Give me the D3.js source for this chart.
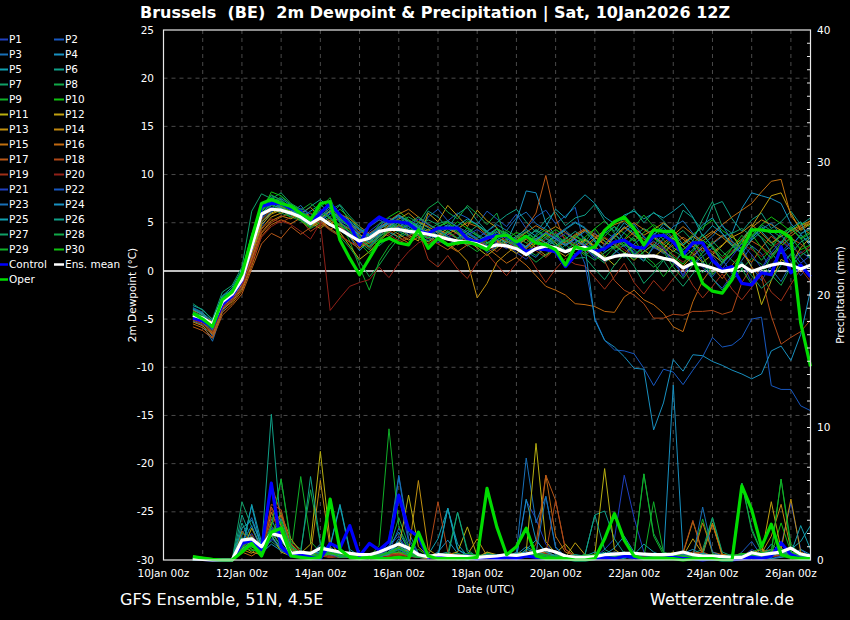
<!DOCTYPE html>
<html><head><meta charset="utf-8">
<script src="https://cdnjs.cloudflare.com/ajax/libs/d3/7.8.5/d3.min.js"></script>
<style>
body{margin:0;background:#000;}
svg{display:block;}
text{font-family:"DejaVu Sans",sans-serif;fill:#fff;}
</style>
</head><body>
<svg id="c" width="850" height="620"></svg>
<script>
// ---------------- DATA ----------------
const runStartUTC = [2026, 0, 10, 18];   // first step: 10Jan 18z, 6-hourly
const stepHours = 6;
const xTickLabels = ["10Jan 00z","12Jan 00z","14Jan 00z","16Jan 00z","18Jan 00z","20Jan 00z","22Jan 00z","24Jan 00z","26Jan 00z"];
const dewTicks = [25,20,15,10,5,0,-5,-10,-15,-20,-25,-30];
const prcTicks = [40,30,20,10,0];
const memberNames = ["P1","P2","P3","P4","P5","P6","P7","P8","P9","P10","P11","P12","P13","P14","P15","P16","P17","P18","P19","P20","P21","P22","P23","P24","P25","P26","P27","P28","P29","P30"];
const memberColors = ["#2040c0","#1858c0","#1870b8","#1890c0","#10a0b0","#10a088","#10a068","#10a848","#10b028","#10c010",
                      "#b8b010","#c0a010","#c09010","#c08810","#c07010","#c06810","#b85818","#b04818","#a03018","#902018"];

const dewMean = [-4.6,-4.9,-5.5,-3.2,-2.4,-0.9,2.5,5.9, 6.4,6.3,6.0,5.6,4.9,5.5,4.8,4.3, 3.7,3.1,3.4,4.1,4.3,4.3,4.1,4.0, 3.8,3.6,3.3,3.1,3.0,2.8,2.4,2.7, 2.6,2.3,1.7,2.3,2.6,2.4,2.0,2.35, 2.45,1.9,1.2,1.5,1.66,1.56,1.5,1.56, 1.3,1.1,0.3,0.8,0.6,0.3,-0.05,0.1, 0.6,-0.05,0.3,0.6,0.8,0.6,0.2,0.6];
const dewCtrl = [-4.9,-5.2,-5.8,-3.5,-2.6,-1.0,2.5,6.7, 7.0,7.0,6.5,6.2,4.9,6.0,7.0,5.8, 4.8,2.7,4.8,5.6,5.1,5.1,4.9,4.1, 3.9,4.45,4.45,4.45,3.3,3.0,3.4,3.7, 3.6,3.0,2.0,2.3,2.2,2.0,0.45,1.6, 2.5,2.0,2.3,3.0,3.2,2.5,2.35,3.6, 3.7,3.0,1.7,2.9,2.9,1.1,0.1,0.45, -1.3,-1.45,-0.2,-0.4,2.5,-0.2,0.6,-0.6];
const dewOper = [-4.4,-5.0,-5.8,-3.0,-2.2,-0.3,3.4,7.0, 7.4,7.0,6.7,6.0,5.3,7.0,7.2,3.2, 1.3,-0.4,1.3,3.0,3.4,2.9,2.7,4.25, 2.35,3.4,2.7,2.9,3.0,2.7,2.2,3.6, 3.7,3.0,3.6,2.9,2.7,2.2,0.6,2.5, 2.2,2.5,4.2,5.1,5.6,4.4,2.7,4.25, 4.1,4.1,1.5,1.3,-1.3,-2.1,-2.3,-0.9, 2.2,4.25,4.25,4.1,4.1,3.4,-5.4,-9.9];

const prcMean = [0.1,0.05,0,0,0,1.5,1.6,1.0, 2.0,1.8,0.5,0.6,0.5,0.9,0.75,0.6, 0.5,0.4,0.4,0.6,0.9,1.2,0.9,0.4, 0.25,0.4,0.35,0.3,0.25,0.2,0.25,0.3, 0.4,0.35,0.45,0.6,0.8,0.6,0.3,0.2, 0.2,0.25,0.4,0.45,0.5,0.5,0.45,0.4, 0.4,0.45,0.6,0.4,0.3,0.3,0.25,0.2, 0.2,0.55,0.4,0.5,0.6,0.9,0.45,0.3];
const prcCtrl = [0.1,0.05,0,0,0,1.25,1.5,0.8, 5.8,1.0,0.3,0.4,0.2,0.1,1.25,0.9, 2.6,0.3,1.25,0.75,1.4,4.9,2.3,1.75, 0.2,0.3,0.1,0.2,0.3,0.1,0.2,0.1, 0.2,0.1,0.3,0.2,0.1,0.1,0.1,0, 0,0.1,0.2,0.1,0.3,0.2,0.1,0.1, 0.1,0.2,0.1,0.1,0,0.1,0,0, 0.1,0.2,0.1,0.3,1.3,0.4,0.1,0.1];
const prcOper = [0.25,0.15,0.05,0,0,0.6,1.25,0.3, 2.1,2.4,0.3,0.2,0.1,0.2,4.6,0.8, 0.2,0.1,0.2,0.1,0.1,0.2,0.1,2.1, 0.3,0.1,0.1,0.1,0.1,0.2,5.4,2.5, 0.4,1.0,2.4,0.3,0.1,0.1,0.1,0, 0,0.1,1.6,3.5,1.5,0.3,0.1,0.1, 0.1,0.1,0,0.1,0.1,0.1,0,0, 5.6,3.8,1.0,2.7,0.4,0.2,0.1,0.1];

const dewP1 = [-4.8,-5.3,-6.2,-3.8,-2.6,-1.2,2.0,5.4, 6.8,7.2,6.5,5.9,5.0,6.4,5.6,4.6, 3.9,2.8,4.1,4.9,5.2,4.6,4.0,4.4, 3.6,2.9,3.8,3.4,2.6,3.1,2.2,3.0, 2.8,1.9,1.2,2.4,3.3,2.9,2.1,3.0, 3.4,2.1,0.9,1.8,2.7,2.0,1.1,2.4, 2.0,1.4,-0.6,1.2,0.4,-0.8,-1.8,-0.4, 0.9,-1.2,0.2,1.6,2.4,1.0,-0.5,0.8];
const dewP2 = [-4.3,-5.0,-6.8,-3.9,-3.0,-1.8,1.1,4.6, 6.1,6.9,6.4,6.0,5.2,5.8,6.1,5.0, 4.4,3.6,3.9,4.6,5.5,5.0,4.3,3.8, 5.6,6.4,5.2,6.0,5.5,4.8,6.2,5.4, 4.6,5.9,4.4,5.6,6.3,4.9,5.7,6.6, 2.3,1.5,2.6,3.8,3.0,1.7,2.4,3.1, 2.2,0.8,1.9,2.6,1.0,-0.6,0.7,1.8, 2.5,0.4,-1.0,0.6,1.9,3.0,1.4,0.2];
const dewP3 = [-5.2,-5.6,-7.3,-4.2,-3.0,-1.5,1.6,5.0, 6.2,6.6,6.0,6.8,5.5,4.9,6.3,5.2, 4.6,3.2,2.5,3.8,4.6,5.6,4.8,3.9, 3.3,4.4,3.6,2.8,3.9,3.2,1.9,2.5, 3.4,2.6,2.0,1.4,2.6,3.5,4.2,3.3, 2.7,3.9,3.1,2.2,1.4,2.8,3.6,2.5, 1.8,3.0,2.1,0.6,1.5,2.4,1.2,-0.3, 1.1,2.6,1.8,0.2,-1.1,0.7,2.0,1.3];
const dewP4 = [-4.0,-4.6,-6.0,-3.5,-2.3,-0.6,3.2,6.0, 6.9,7.5,6.8,6.2,5.6,6.0,5.1,4.2, 3.5,2.1,3.2,4.6,5.0,4.5,5.3,4.7, 4.0,3.5,4.6,3.8,3.1,2.6,3.5,4.1, 3.0,5.2,8.3,8.1,5.0,3.6,2.8,3.4, 4.1,3.0,2.3,3.5,4.6,3.9,2.6,3.8, 4.5,3.4,2.2,3.1,1.9,2.8,3.6,3.9, 6.5,8.1,7.8,7.5,7.0,4.9,3.8,2.6];
const dewP5 = [-3.6,-4.0,-5.1,-2.8,-1.9,-0.2,3.8,6.6, 7.8,7.4,6.3,5.5,6.2,6.9,6.0,5.3, 4.8,3.4,2.9,4.2,4.0,3.5,4.4,5.0, 4.5,3.2,2.6,3.4,4.2,3.7,2.9,3.6, 4.0,3.1,2.4,3.8,4.6,6.4,5.5,6.9, 7.9,7.0,5.6,4.9,5.8,6.2,5.4,6.0, 5.5,6.2,7.0,5.6,3.6,4.7,3.9,2.8, 1.9,3.2,4.1,3.0,1.8,2.6,3.7,2.9];
const dewP6 = [-4.5,-4.9,-5.4,-2.6,-2.0,-0.9,2.8,6.3, 7.2,6.8,6.1,5.4,4.6,5.2,5.9,6.8, 5.1,3.9,4.6,5.3,4.7,4.1,3.6,4.3, 6.2,5.6,4.4,5.9,6.6,5.2,4.1,5.0, 5.8,6.4,5.1,4.0,5.3,6.1,4.7,5.5, 5.8,6.9,5.2,4.1,5.6,6.4,5.0,6.1, 5.2,3.9,6.3,5.5,4.2,6.8,7.2,5.4, 4.1,5.3,6.0,4.4,5.1,6.2,4.8,5.5];
const dewP7 = [-3.4,-4.1,-5.0,-2.2,-1.5,0.4,6.2,8.0, 7.5,8.1,7.0,6.4,5.3,5.9,7.2,5.8, 4.4,3.0,2.2,3.6,5.1,5.8,5.2,4.6, 5.3,4.8,4.0,3.3,4.5,3.8,3.2,4.0, 3.5,2.7,3.4,4.3,3.6,2.6,3.4,2.8, 2.2,3.3,4.1,3.4,2.5,3.6,4.4,3.8, 2.7,3.5,4.2,3.1,5.4,7.2,4.6,3.9, 4.4,3.6,4.8,4.2,3.5,4.6,3.9,4.3];
const dewP8 = [-4.9,-5.2,-6.3,-3.4,-2.7,-1.0,2.3,5.8, 6.4,6.0,5.6,5.2,4.4,5.0,4.3,3.6, 2.4,1.0,-0.6,0.6,2.1,3.4,4.0,4.8, 4.2,4.9,5.2,4.5,3.8,3.3,2.8,3.5, 4.0,2.9,2.2,1.6,2.6,3.9,2.8,1.7, 2.5,1.6,0.8,1.9,2.8,2.2,1.3,0.4, 1.2,2.1,1.5,0.8,-0.2,1.1,0.3,-1.0, 0.2,1.3,0.7,-0.4,-1.5,0.4,1.6,2.3];
const dewP9 = [-4.2,-4.7,-5.5,-2.9,-2.1,-0.5,3.0,6.7, 7.9,7.3,6.6,5.8,5.1,6.6,7.6,5.0, 3.1,0.4,-2.0,1.0,2.6,3.7,4.2,4.5, 3.8,4.6,5.0,4.3,5.2,4.8,3.9,3.3, 2.6,3.4,4.0,3.2,2.4,1.8,2.7,3.6, 2.9,2.0,1.4,2.5,3.3,4.5,5.8,4.6, 3.2,2.4,1.8,2.9,3.7,2.6,1.5,2.4, 3.1,4.2,3.5,2.6,3.9,4.4,3.4,4.1];
const dewP10 = [-4.7,-5.1,-5.9,-3.1,-2.5,-0.7,2.6,6.1, 8.2,7.8,6.9,6.3,5.4,4.8,5.6,6.4, 5.5,4.3,3.6,4.8,5.6,6.2,5.3,4.5, 3.9,3.4,4.2,5.1,4.4,3.6,3.0,2.6, 3.3,4.0,3.6,2.8,3.5,4.3,3.6,2.4, 1.6,2.4,3.6,4.6,3.9,3.1,4.0,4.8, 4.1,3.3,2.6,3.8,4.5,5.3,4.2,3.5, 2.8,3.6,4.8,5.6,4.9,4.1,5.0,4.6];
const dewP11 = [-4.4,-4.8,-5.6,-3.3,-2.4,-1.1,1.8,5.1, 6.0,6.5,6.2,5.7,5.0,4.4,5.2,4.0, 2.6,1.2,2.0,3.1,4.0,4.8,4.2,3.6, 3.0,3.7,4.4,3.9,3.2,2.4,1.6,2.4, 3.1,2.5,1.7,2.9,3.8,2.9,1.9,2.6, 3.3,2.6,1.5,0.6,1.8,2.7,2.2,1.4, 2.3,3.4,2.6,1.8,0.9,1.7,2.6,3.8, 2.1,0.4,-3.5,-1.0,1.2,0.6,2.4,3.5];
const dewP12 = [-5.0,-5.4,-6.4,-3.6,-2.8,-1.4,1.4,4.8, 5.9,6.3,5.8,5.3,4.6,5.4,6.2,5.6, 4.9,3.8,3.2,4.3,4.9,4.4,3.7,3.1, 6.0,5.1,6.8,5.7,4.6,6.3,5.2,4.5, 2.5,1.8,2.6,3.4,2.9,2.2,1.5,2.3, 3.2,2.5,3.4,2.7,1.9,1.1,2.0,2.8, 2.1,1.3,0.5,1.6,2.4,1.7,0.9,1.8, 2.9,4.6,6.2,7.8,8.1,6.0,4.2,4.9];
const dewP13 = [-4.6,-5.0,-6.1,-3.7,-2.9,-1.6,1.2,4.4, 5.6,6.0,6.4,5.9,5.2,4.6,5.3,4.7, 3.6,2.4,3.0,3.9,4.4,3.8,3.2,3.8, 4.3,3.6,2.8,2.1,1.0,-2.8,-1.3,0.9, 1.8,2.6,3.3,2.4,1.6,2.3,3.0,3.7, 4.2,3.5,2.7,3.6,4.5,3.7,2.9,3.5, 2.8,2.0,2.9,3.6,2.8,1.9,2.7,3.5, 4.0,4.8,3.9,2.9,3.6,4.2,4.7,5.2];
const dewP14 = [-5.3,-5.7,-6.6,-4.0,-3.2,-1.9,0.8,4.0, 5.2,5.7,5.4,6.0,6.6,5.5,4.8,5.6, 5.0,4.2,3.4,4.0,4.7,5.4,6.0,5.1, 4.6,4.0,3.4,2.7,3.3,2.7,2.1,2.9, 3.6,3.0,2.3,3.1,4.0,4.6,4.0,3.3, 2.6,3.4,4.2,4.8,5.2,4.4,3.7,4.3, 5.0,4.2,3.3,2.5,3.4,4.1,3.5,2.6, 3.3,4.5,5.3,4.8,4.2,3.6,4.4,5.0];
const dewP15 = [-4.1,-4.5,-5.3,-3.0,-2.2,-0.4,2.1,5.3, 6.3,6.7,6.1,5.4,4.8,5.7,6.5,5.9, 5.4,4.6,3.9,4.5,5.2,5.9,6.4,5.6, 4.8,4.3,3.8,4.4,5.0,4.6,3.7,3.1, 2.4,3.2,4.0,4.7,4.1,3.4,2.7,3.5, 4.3,3.6,2.8,3.5,4.4,5.0,4.3,3.6, 2.9,3.7,4.6,3.8,3.1,3.9,4.8,5.6, 6.3,7.0,8.2,9.3,9.5,5.7,4.4,5.2];
const dewP16 = [-5.5,-5.9,-6.9,-4.3,-3.4,-2.1,0.5,3.6, 4.8,5.3,4.9,5.5,6.0,5.2,4.3,4.9, 4.3,3.5,2.8,3.6,4.2,3.5,2.9,3.5, 4.1,3.4,2.6,2.0,2.7,3.3,2.4,1.6, 0.8,1.4,0.6,-0.5,-1.6,-2.0,-2.5,-3.4, -3.5,-3.7,-4.2,-4.3,-2.7,-2.0,-3.0,-3.5, -4.4,-5.8,-6.3,-3.2,-1.0,0.4,-0.8,0.6, 1.8,0.9,2.4,3.6,2.8,3.9,4.6,3.8];
const dewP17 = [-5.8,-6.2,-7.0,-4.6,-3.6,-2.4,0.2,2.8, 3.9,3.4,4.6,3.8,4.5,5.2,4.4,3.7, 3.0,2.3,3.4,4.1,3.6,2.9,3.4,4.0, 3.5,2.8,2.2,2.9,3.6,3.1,2.5,3.2, 2.6,3.4,4.5,6.0,9.9,5.5,3.0,3.8, 4.4,3.8,3.1,2.4,3.2,4.0,3.3,2.6, 1.9,2.7,3.5,2.8,2.1,2.9,3.7,3.0, 2.3,3.1,2.5,1.7,2.6,3.4,2.8,2.0];
const dewP18 = [-5.1,-5.5,-6.5,-3.9,-3.1,-1.7,1.0,3.9, 5.0,5.6,6.0,5.3,4.1,4.8,5.5,4.6, 3.8,3.1,2.4,3.3,4.0,4.7,4.1,3.4, 2.8,3.5,4.1,3.3,2.6,3.2,2.7,2.0, 2.9,3.6,2.9,2.1,1.4,2.3,3.1,2.5, 1.8,2.6,1.0,-1.0,-2.0,-2.5,-3.4,-4.9, -4.9,-4.5,-4.6,-4.2,-4.2,-4.1,-4.5,-4.2, -1.2,0.4,-0.6,-4.7,-7.6,-6.9,-6.3,-5.1];
const dewP19 = [-4.9,-5.3,-6.0,-3.4,-2.6,-1.3,1.5,4.3, 5.4,5.0,5.6,6.1,5.6,5.0,4.2,3.6, 3.0,2.6,3.5,4.4,3.8,3.1,3.6,4.2, 1.2,0.4,1.6,0.2,-0.8,0.9,1.8,0.6, -0.5,0.8,1.9,0.3,-1.2,0.2,1.3,0.7, 0.5,-0.7,-1.9,-0.6,0.8,-1.2,-2.4,-1.0, -2.1,-0.8,0.3,-1.5,-2.8,-1.6,-0.3,-1.9, -3.0,-1.7,-0.4,-2.2,-3.1,-1.4,0.2,-1.1];
const dewP20 = [-5.0,-5.5,-6.3,-3.8,-3.0,-1.6,0.9,3.5, 4.6,5.2,4.8,4.1,3.3,5.0,-4.1,-2.8, -1.6,-1.2,-0.9,0.4,-0.7,0.8,2.0,2.9, 3.4,2.8,3.5,4.0,3.3,2.6,3.2,3.8, 3.1,2.4,1.7,2.5,3.3,4.0,3.4,2.7, 2.0,2.8,3.5,2.9,2.2,1.5,2.3,3.0, 2.4,1.7,0.9,1.8,2.6,2.0,1.3,2.1, 2.8,2.2,1.5,2.4,3.1,2.5,1.8,2.6];
const dewP21 = [-4.6,-5.0,-5.8,-3.2,-2.4,-0.9,2.4,5.7, 6.6,6.2,5.8,6.5,5.9,5.3,6.0,5.4, 4.7,4.0,4.6,5.3,4.8,4.2,4.7,5.4, 4.8,4.2,3.6,3.0,3.7,4.3,3.6,2.9, 2.3,3.0,3.7,3.1,2.4,3.2,3.9,3.2, 2.5,1.2,2.8,3.9,2.6,1.4,2.9,3.8, 2.4,0.9,-0.4,1.3,2.7,1.6,0.2,1.5, 2.8,1.7,0.3,1.9,3.1,2.2,0.8,1.6];
const dewP22 = [-4.4,-4.9,-6.1,-3.5,-2.7,-1.1,2.2,5.5, 6.5,6.9,6.3,5.7,5.1,5.6,4.9,4.3, 3.7,3.0,3.8,4.5,5.0,4.4,3.8,4.2, 3.8,3.3,2.7,3.3,3.9,3.3,2.6,3.2, 3.8,3.2,2.5,3.3,4.0,3.4,2.7,3.3, 0.7,-4.9,-7.2,-8.2,-8.3,-8.6,-10.1,-11.9, -10.2,-10.5,-11.8,-10.3,-8.9,-6.9,-7.9,-7.7, -6.9,-5.0,-4.8,-11.9,-12.3,-12.3,-14.0,-14.5];
const dewP23 = [-3.8,-4.3,-5.7,-3.0,-2.0,-0.3,3.4,6.4, 7.3,6.9,6.3,5.6,4.9,5.7,6.5,5.7, 5.0,4.3,3.6,4.3,5.0,5.7,5.0,4.4, 3.8,4.5,5.2,4.6,4.0,3.4,4.1,4.8, 4.2,5.5,6.1,4.9,4.3,3.7,4.4,5.1, 4.5,3.2,1.9,2.6,4.0,4.9,3.5,2.4, 3.3,4.6,5.2,3.9,2.7,3.6,4.8,3.1, 2.2,3.5,4.3,5.0,3.7,2.5,3.8,4.6];
const dewP24 = [-4.0,-4.5,-5.8,-3.3,-2.2,-0.7,2.6,6.0, 6.9,6.5,5.9,5.4,4.7,5.5,6.3,5.5, 4.6,3.7,3.0,3.8,4.6,5.3,4.6,4.0, 3.4,4.1,4.8,4.2,3.6,3.0,3.7,4.4, 3.8,3.1,2.5,3.2,3.9,3.3,2.6,3.3, 2.5,-5.1,-7.2,-7.9,-8.9,-10.1,-10.2,-16.5, -13.7,-9.2,-10.4,-8.7,-8.8,-9.4,-9.8,-10.3, -10.7,-11.2,-10.7,-8.3,-7.8,-9.3,-6.6,-2.0];
const dewP25 = [-3.9,-4.4,-5.2,-2.6,-1.7,0.1,3.6,6.9, 7.5,7.0,6.4,5.7,5.0,5.9,6.7,5.9, 5.2,4.4,3.7,4.4,5.1,5.8,5.1,4.5, 3.9,3.3,4.0,4.7,5.4,4.8,4.1,3.5, 2.9,3.6,4.3,3.6,2.9,3.6,4.3,5.0, 4.4,3.2,2.1,3.7,5.0,4.2,2.8,3.6, 4.9,4.1,2.7,3.5,4.8,5.5,3.9,2.6, 1.8,3.3,4.6,3.8,2.9,4.4,5.1,2.8];
const dewP26 = [-4.8,-5.2,-6.0,-3.3,-2.5,-0.8,2.9,6.5, 7.6,7.2,6.4,5.8,6.7,7.4,6.5,5.1, 4.0,3.2,2.6,3.5,4.3,5.1,4.4,3.7, 3.1,3.9,4.7,4.0,3.3,2.8,3.6,4.3, 3.6,2.8,3.5,4.2,3.4,2.6,3.3,4.1, 3.4,2.2,3.9,4.6,3.1,1.8,1.0,2.6, 3.9,3.1,1.4,2.2,3.8,2.5,0.8,1.9, 3.2,4.5,3.4,1.9,0.6,1.8,3.0,3.6];
const dewP27 = [-4.3,-4.7,-5.6,-2.9,-2.1,-0.4,3.1,6.8, 7.1,6.6,6.0,5.3,4.7,5.5,6.3,6.9, 5.7,4.6,3.4,2.6,3.5,4.2,4.9,5.6, 4.9,4.2,3.5,3.1,3.9,4.7,4.0,3.3, 2.6,3.4,4.1,3.3,2.5,3.2,2.1,1.3, 1.4,0.2,-0.9,0.6,1.8,0.5,-1.3,-0.2, 1.1,-0.4,-1.6,-0.3,1.0,-0.8,-2.0,-0.6, 0.9,-0.5,-1.8,-0.9,0.6,1.7,0.4,-0.7];
const dewP28 = [-4.5,-4.9,-5.7,-3.0,-2.2,-0.5,2.7,6.2, 7.0,7.7,6.9,6.2,5.5,6.2,5.4,4.7, 4.1,3.5,2.9,3.6,4.3,5.0,5.6,5.0, 6.5,7.2,6.1,5.4,6.8,5.9,4.8,6.0, 3.2,2.5,1.8,0.9,1.7,2.5,3.2,2.5, 1.8,1.1,1.9,2.6,1.9,1.2,2.0,2.7, 2.0,0.4,-0.8,0.6,1.9,3.1,2.0,1.1, 0.2,-1.4,-0.3,1.5,2.9,4.4,3.5,1.2];
const dewP29 = [-4.7,-5.1,-5.8,-3.2,-2.4,-0.9,2.4,5.8, 6.8,6.3,5.6,6.3,7.0,6.2,5.5,4.8, 4.1,3.3,2.5,3.3,4.1,4.8,4.1,3.4, 2.7,3.4,4.1,3.4,2.7,2.0,2.8,3.5, 4.2,3.6,2.9,3.6,4.3,3.7,3.0,3.7, 3.0,4.4,5.2,3.9,2.6,3.4,1.6,0.8, -0.6,0.7,2.2,3.0,1.5,-0.4,0.9,2.4, 3.7,2.5,1.1,2.3,3.8,4.6,3.3,3.9];
const dewP30 = [-4.5,-5.0,-5.7,-3.1,-2.3,-0.6,2.7,6.2, 7.3,6.8,6.1,5.2,4.5,6.0,6.9,5.4, 4.6,2.9,1.8,3.1,4.4,5.3,4.7,3.9, 3.4,4.6,5.1,4.0,3.5,2.7,3.3,4.4, 3.8,2.6,1.9,3.0,3.9,2.8,2.0,2.9, 3.5,4.4,3.1,2.3,3.0,1.6,2.5,3.4, 2.6,1.5,0.7,2.0,3.2,2.4,1.1,1.8, 2.9,3.8,2.4,1.3,2.6,3.5,2.2,2.7];

const prcP1 = [0.1,0,0,0,0,1.2,2.0,0.6, 1.5,2.2,0.4,0.3,0.2,0.8,0.5,0.2, 0.3,0.1,0.2,0.5,1.1,1.8,0.6,0.2, 0.1,0.3,0.2,0,0.1,0,0.2,0.4, 0.3,0.2,4.5,3.1,1.2,0.4,0,0, 0.1,0.2,0.8,1.6,6.4,3.2,0.6,0.2, 0.1,0.3,0.4,0.2,0.1,0,0,0, 0.2,0.8,0.4,0.6,1.1,4.3,0.8,0.2];
const prcP2 = [0.1,0,0,0,0,0.8,1.4,0.9, 2.6,1.2,0.3,0.5,0.2,0.4,0.9,0.3, 0.6,0.2,0.1,0.3,0.6,2.4,1.0,0.3, 0.1,0.2,0.1,0.3,0,0.1,0.5,0.2, 0.1,0.4,0.6,0.3,0.8,0.2,0.1,0, 0,0.3,0.2,0.4,0.6,0.2,0.1,0.3, 0.2,0.1,0.5,0.3,0.1,0,0.2,0, 0.6,1.4,0.3,0.2,0.8,0.4,0.1,0];
const prcP3 = [0,0,0,0,0,1.9,3.2,1.1, 2.4,1.6,0.5,0.2,0.6,0.3,1.0,0.4, 0.2,0.1,0.3,0.2,1.5,6.4,2.1,0.5, 0.2,0.3,0.4,0.1,0,0.2,0.1,0.3, 0.2,0.6,7.7,2.8,4.8,1.0,0.2,0.1, 0,0.1,0.3,0.2,0.4,0.6,0.3,0.1, 0.2,0.4,0.3,0.2,0.2,0.1,0,0.1, 0.3,0.5,0.2,0.7,0.9,0.5,0.3,0.2];
const prcP4 = [0,0,0,0,0,1.0,4.1,0.8, 3.1,1.4,0.6,0.2,0.4,1.2,0.6,0.3, 0.5,0.2,0.1,0.6,1.0,2.1,0.8,0.4, 0.2,0.6,1.5,0.5,0.2,0.1,0.3,0.1, 0.2,0.4,1.0,0.6,0.5,0.2,0.1,0, 0.1,0.2,0.4,0.9,1.8,0.6,0.3,0.2, 0.1,13.2,0.5,0.8,0.4,0.2,0.3,0.1, 0.2,0.4,0.3,1.2,0.6,0.3,0.8,0.4];
const prcP5 = [0.2,0.1,0,0,0,0.6,4.2,1.3, 1.8,0.8,0.4,0.3,0.2,0.6,1.1,4.2, 0.8,0.3,0.2,0.1,0.6,1.4,0.5,0.2, 0.4,1.6,3.9,1.2,0.3,0.1,0.2,0.3, 0.5,0.2,0.8,1.5,0.6,0.3,0.2,0.1, 0,0.3,0.6,0.2,0.1,0.4,1.2,0.6, 0.3,0.2,0.6,0.4,0.3,0.2,0.1,0, 0.1,0.4,0.3,0.2,0.5,0.8,1.4,2.6];
const prcP6 = [0.1,0,0,0,0,3.4,1.6,0.8, 11.0,2.2,0.9,0.4,0.3,0.6,0.2,0.5, 0.3,0.2,0.4,0.2,0.5,1.2,0.4,0.3, 0.2,0.4,0.6,0.3,0.1,0.2,0.4,0.2, 0.3,0.5,0.4,0.2,0.3,0.1,0,0.2, 0.4,3.4,3.7,1.6,0.5,0.3,0.2,0.4, 0.2,0.3,0.5,0.2,0.1,0.3,0.2,0.1, 0.2,0.6,0.3,0.8,0.4,0.3,0.2,0.1];
const prcP7 = [0.2,0.1,0,0,0,4.4,2.5,1.0, 1.4,0.8,0.6,0.4,0.2,0.3,0.7,0.4, 0.3,0.2,0.1,0.4,0.6,0.9,0.3,0.2, 0.1,0.3,0.2,0.4,0.2,0.1,0.6,0.3, 0.2,0.1,0.4,0.3,0.2,0.1,0.2,0.1, 0,0.2,0.5,0.3,0.2,0.6,0.4,0.2, 0.1,0.3,0.2,0.5,0.8,3.2,0.4,0.2, 0.1,0.3,0.2,0.4,0.6,0.3,0.2,0.1];
const prcP8 = [0,0,0,0,0,0.9,1.8,0.6, 2.6,6.1,1.4,0.8,5.3,1.2,0.5,0.2, 0.4,0.3,0.1,0.2,0.8,3.2,1.1,0.4, 0.3,0.1,0.5,3.6,0.8,0.2,0.1,0.3, 0.2,0.4,0.3,0.5,0.2,0.1,0,0.1, 0.2,0.4,0.3,0.2,0.6,0.4,6.5,2.0, 0.6,0.3,0.2,0.1,0.4,0.3,0.2,0.1, 5.8,2.4,0.6,0.3,0.8,0.4,0.2,0.3];
const prcP9 = [0.1,0,0,0,0,2.1,1.2,0.6, 3.2,2.8,0.5,6.3,1.4,0.6,0.3,0.2, 0.5,0.3,0.2,1.1,9.9,2.6,0.6,0.3, 0.2,0.1,0.4,0.3,0.2,0.1,0.5,0.3, 0.2,0.4,0.3,0.2,0.6,0.3,0.1,0, 0.1,0.3,0.2,0.4,0.5,0.3,0.2,4.4, 0.6,0.3,0.2,0.4,3.1,0.5,0.2,0.1, 0.2,0.4,0.3,0.5,6.1,1.2,0.4,0.2];
const prcP10 = [0,0,0,0,0,1.6,0.9,1.4, 2.0,3.6,1.1,0.4,0.6,0.3,0.8,0.2, 0.4,0.2,0.1,0.3,0.6,0.5,0.3,0.8, 0.3,0.2,0.5,0.4,0.2,0.3,0.4,0.2, 0.1,0.3,0.4,0.2,0.3,0.1,0.1,0, 0.1,0.2,0.3,0.6,0.4,0.2,0.3,0.5, 0.3,0.2,0.4,0.3,0.2,0.4,0.3,0.2, 0.4,0.6,0.9,0.4,2.8,0.6,0.4,0.3];
const prcP11 = [0.1,0,0,0,0,0.7,2.4,0.9, 1.9,0.6,0.3,0.5,1.2,8.2,1.4,0.3, 0.2,0.4,0.1,0.3,0.6,0.9,4.9,1.0, 0.3,0.2,0.4,0.6,2.5,0.3,0.2,0.1, 0.2,0.5,0.6,8.8,1.4,0.5,1.2,0.3, 0.1,0.4,6.9,0.8,0.3,0.2,0.4,0.3, 0.2,0.6,0.3,0.2,0.4,0.3,0.2,0.1, 0.3,0.5,0.8,0.4,0.6,0.9,0.5,0.3];
const prcP12 = [0,0,0,0,0,1.1,0.6,0.4, 2.2,1.0,0.5,0.2,0.3,0.6,0.4,0.2, 0.3,0.1,0.2,0.4,0.3,0.6,0.4,0.2, 0.4,0.3,0.2,0.1,0.3,0.2,0.6,0.4, 0.2,0.3,0.5,0.4,0.6,0.3,0.2,1.3, 0.4,0.3,0.2,0.5,0.3,0.2,0.1,0.3, 0.2,0.4,0.3,1.6,0.5,2.8,0.4,0.3, 0.2,0.5,0.4,4.4,0.8,0.6,0.4,0.2];
const prcP13 = [0.1,0,0,0,0,0.5,1.6,0.3, 3.6,2.0,0.8,0.3,0.4,6.0,0.9,0.2, 0.2,0.1,0.3,0.2,0.4,1.0,0.6,6.0, 0.8,0.3,0.2,0.4,0.3,0.2,0.1,0.3, 0.2,0.1,0.3,0.4,0.2,0.3,0.2,0.1, 0.2,0.4,0.3,0.2,0.5,0.4,0.3,0.2, 0.4,0.3,0.5,2.9,0.6,2.7,0.4,0.3, 0.5,0.4,0.3,0.6,0.8,4.6,0.6,0.3];
const prcP14 = [0,0,0,0,0,0.8,0.5,1.2, 2.8,3.4,1.6,0.6,0.4,0.2,0.5,0.3, 0.6,0.4,0.2,0.1,0.3,0.4,0.8,0.5, 0.2,0.3,0.1,0.2,0.4,1.6,0.3,0.2, 0.1,0.2,0.3,0.6,0.4,0.2,0.1,0.2, 0.3,0.2,0.4,0.6,0.3,0.2,0.4,0.3, 0.2,0.3,0.6,0.4,0.2,0.3,0.1,0.2, 0.4,0.6,0.5,1.8,4.2,0.8,0.5,0.3];
const prcP15 = [0.1,0,0,0,0,1.4,1.0,0.6, 4.0,2.6,0.9,0.5,0.3,0.4,0.2,0.3, 0.2,0.5,0.3,0.2,0.6,0.4,0.3,0.2, 0.1,0.2,0.4,0.3,0.2,0.1,0.2,0.3, 0.4,0.3,0.6,0.5,0.4,0.2,0.1,0.3, 0.2,0.4,0.3,0.2,0.4,0.3,0.2,0.4, 0.3,0.5,0.4,0.3,2.8,0.6,0.4,0.3, 0.2,0.4,0.6,0.8,0.5,0.4,0.3,0.2];
const prcP16 = [0,0,0,0,0,0.6,0.3,0.8, 1.8,3.4,1.2,0.5,0.3,0.6,0.4,0.2, 0.3,0.2,0.4,0.3,0.5,0.4,0.6,0.3, 0.2,0.3,0.2,0.4,0.3,0.2,0.4,0.2, 0.3,0.2,0.4,0.3,6.4,1.8,0.6,0.3, 0.2,0.1,0.3,0.2,0.4,0.2,0.3,0.2, 0.1,0.2,0.3,0.6,0.4,2.7,0.3,0.2, 0.4,0.5,0.3,0.6,0.4,0.5,0.3,0.2];
const prcP17 = [0.2,0.1,0,0,0,2.2,1.2,0.9, 5.7,3.4,0.8,0.4,0.6,0.3,0.2,0.4, 0.3,0.2,0.3,0.4,0.2,0.3,0.5,0.3, 0.2,0.4,0.3,0.2,0.3,0.2,0.1,0.3, 0.2,0.4,0.3,1.2,6.4,4.5,0.8,0.3, 0.2,0.3,0.4,0.2,0.3,0.4,0.2,0.3, 0.2,0.4,0.3,0.5,0.6,0.3,0.2,0.3, 0.4,0.6,0.5,0.4,0.7,0.5,0.3,0.2];
const prcP18 = [0,0,0,0,0,1.3,0.8,0.5, 4.2,3.8,0.9,0.3,0.5,0.4,0.2,0.3, 0.4,0.2,0.1,0.3,0.4,0.5,0.3,0.2, 0.3,4.4,0.6,0.3,0.2,0.3,0.2,0.1, 0.2,0.3,0.4,0.6,0.5,4.5,0.8,0.3, 0.2,0.3,0.4,0.2,0.3,0.2,0.4,0.3, 0.2,0.3,0.6,3.0,0.4,0.3,0.2,0.3, 0.4,0.5,0.6,0.4,0.3,0.5,0.2,0.3];
const prcP19 = [0.3,0.2,0.1,0,0,0.9,1.9,0.7, 3.9,1.6,0.5,0.3,0.4,0.6,0.3,0.2, 0.3,0.4,0.2,0.3,0.5,0.3,0.4,0.2, 0.3,0.2,0.4,0.3,0.2,0.3,0.2,0.4, 0.3,0.2,0.3,0.4,0.5,0.3,0.2,0.3, 0.2,0.3,0.4,0.3,0.5,0.2,0.3,0.2, 0.3,0.2,0.4,0.3,0.2,0.4,0.3,0.2, 0.3,0.4,0.5,0.3,0.6,0.4,0.3,0.2];
const prcP20 = [0.3,0.2,0.1,0,0,0.7,1.1,0.6, 3.2,2.4,1.3,0.6,0.3,0.4,0.2,0.3, 0.2,0.3,0.4,0.2,0.3,0.4,0.2,0.3, 0.2,0.3,0.2,0.4,0.3,0.2,0.3,0.2, 0.3,0.4,0.2,0.3,0.4,0.2,0.3,0.2, 0.3,0.2,0.4,0.3,0.2,0.4,0.3,0.2, 0.3,0.4,0.2,0.3,0.4,0.3,0.2,0.3, 0.2,0.3,0.4,0.3,0.2,0.4,0.3,0.2];
const prcP21 = [0,0,0,0,0,1.0,1.5,0.4, 2.4,1.8,0.6,0.4,0.2,0.5,0.6,0.3, 0.2,0.3,0.2,0.4,0.8,4.8,1.4,0.4, 0.2,0.3,0.2,0.1,0.3,0.2,0.4,0.3, 0.2,0.3,0.5,0.4,0.3,0.2,0.1,0.2, 0.3,0.2,0.4,0.6,0.5,0.3,0.2,0.4, 0.3,0.2,0.4,0.3,0.5,0.3,0.2,0.3, 0.4,0.3,0.5,0.6,0.4,0.5,0.3,0.2];
const prcP22 = [0,0,0,0,0,0.6,1.2,0.3, 1.6,0.9,0.4,0.3,0.2,0.6,0.4,0.2, 0.3,0.2,0.4,0.3,0.5,0.8,0.4,0.2, 0.3,0.2,0.3,0.2,0.1,0.2,0.3,0.2, 0.4,0.3,0.6,0.4,0.3,0.2,0.1,0.2, 0.3,0.2,0.1,0.2,0.3,0.2,0.1,0.2, 0.1,0.2,0.1,0.2,0.3,0.2,0.1,0.2, 0.1,0.3,0.2,0.1,0.3,0.2,0.1,0.2];
const prcP23 = [0,0,0,0,0,1.3,2.6,0.7, 2.0,1.1,0.5,0.3,0.4,0.2,0.6,0.3, 0.2,0.4,0.3,0.2,0.5,6.3,1.6,0.5, 0.3,0.2,0.4,0.3,0.2,0.3,0.4,0.2, 0.3,0.4,0.6,0.5,4.8,0.9,0.3,0.2, 0.1,0.3,0.2,0.4,0.3,0.2,0.4,0.3, 0.2,0.3,0.4,0.2,4.0,0.6,0.3,0.2, 0.3,0.4,0.2,0.5,0.6,0.4,0.3,0.2];
const prcP24 = [0,0,0,0,0,0.8,1.4,0.5, 1.2,0.7,0.4,0.2,0.5,0.3,0.8,0.4, 0.2,0.3,0.2,0.3,0.4,1.6,0.6,0.3, 0.2,0.4,3.9,0.8,0.3,0.2,0.3,0.4, 0.3,0.2,4.6,1.5,0.6,0.3,0.2,0.1, 0.2,0.1,0.2,0.3,0.2,0.1,0.2,0.1, 0.2,0.1,0.2,0.1,0.2,0.1,0.2,0.1, 0.2,0.3,0.2,0.1,0.2,0.3,0.2,0.4];
const prcP25 = [0.1,0,0,0,0,2.4,3.0,1.1, 1.8,0.9,0.4,0.3,0.5,0.6,1.0,4.1, 0.6,0.3,0.2,0.4,0.6,1.2,0.4,0.2, 0.3,0.2,3.9,0.8,0.4,0.3,0.2,0.4, 0.3,0.2,0.8,0.6,0.4,0.3,0.2,0.4, 0.3,0.6,0.4,0.3,0.2,0.5,0.4,0.3, 0.2,0.4,0.3,0.2,0.5,0.3,0.2,0.4, 0.3,0.5,0.4,0.3,0.6,0.5,2.6,0.8];
const prcP26 = [0.1,0,0,0,0,2.8,1.2,0.7, 1.9,3.1,1.0,0.5,6.3,1.3,0.6,0.3, 0.2,0.4,0.3,0.2,0.5,0.8,0.6,0.3, 0.2,0.3,0.2,3.6,0.6,0.3,0.2,0.4, 0.3,0.5,0.4,0.3,0.2,0.4,0.3,0.2, 0.4,3.4,0.8,0.4,0.3,0.5,0.4,0.3, 0.2,0.3,0.4,0.3,0.2,0.4,0.3,0.2, 0.5,0.3,0.4,0.6,0.5,0.3,0.4,0.2];
const prcP27 = [0,0,0,0,0,1.5,1.0,0.6, 2.3,1.4,0.6,0.4,0.3,0.5,0.4,0.6, 0.3,0.2,0.4,0.3,0.6,1.0,0.5,0.3, 0.2,0.4,0.3,0.5,0.3,0.2,0.4,0.3, 0.2,0.3,0.4,0.6,0.3,0.2,0.3,0.4, 0.2,0.3,0.5,0.4,0.3,0.6,0.4,0.3, 0.2,0.4,0.3,0.2,0.4,3.2,0.6,0.3, 0.4,0.6,0.5,0.8,0.6,0.4,0.3,0.2];
const prcP28 = [0,0,0,0,0,1.7,0.8,0.5, 2.1,1.0,0.4,0.6,0.3,0.4,0.6,0.2, 0.3,0.2,0.3,0.4,0.6,0.7,0.3,0.2, 0.4,0.3,0.2,0.3,0.2,0.4,0.3,0.2, 0.3,0.2,0.4,0.3,0.2,0.3,0.4,0.2, 0.3,0.4,0.3,0.2,0.4,0.3,0.2,0.3, 0.4,0.3,0.2,0.4,0.3,0.2,0.3,0.4, 5.8,2.2,0.6,0.4,0.8,0.6,0.4,0.3];
const prcP29 = [0.1,0,0,0,0,1.1,0.7,0.9, 2.5,6.1,1.1,0.5,0.3,0.4,0.6,0.2, 0.3,0.4,0.2,0.3,0.5,0.6,0.4,0.2, 0.3,0.2,0.4,0.3,0.5,0.3,0.2,0.3, 0.2,0.4,0.3,0.5,0.4,0.2,0.3,0.2, 0.4,0.3,0.2,0.4,0.6,0.3,6.5,1.8, 0.4,0.3,0.2,0.3,0.4,0.3,0.2,0.3, 0.4,0.3,0.5,0.6,6.1,0.8,0.4,0.3];
const prcP30 = [0,0,0,0,0,0.9,1.6,0.5, 1.8,2.9,0.8,0.4,0.6,0.3,0.5,0.4, 0.3,0.2,0.4,0.3,0.6,0.9,0.5,0.3, 0.2,0.4,0.3,0.2,0.3,0.4,0.2,0.3, 0.4,0.3,0.2,0.4,0.3,0.2,0.3,0.2, 0.3,0.4,0.3,0.2,0.4,0.3,0.5,0.3, 0.2,0.4,0.3,0.2,0.3,0.4,0.2,0.3, 0.5,0.4,0.6,0.5,0.8,0.6,0.4,0.3];

const dewMembers = [dewP1,dewP2,dewP3,dewP4,dewP5,dewP6,dewP7,dewP8,dewP9,dewP10,dewP11,dewP12,dewP13,dewP14,dewP15,dewP16,dewP17,dewP18,dewP19,dewP20,dewP21,dewP22,dewP23,dewP24,dewP25,dewP26,dewP27,dewP28,dewP29,dewP30];
const prcMembers = [prcP1,prcP2,prcP3,prcP4,prcP5,prcP6,prcP7,prcP8,prcP9,prcP10,prcP11,prcP12,prcP13,prcP14,prcP15,prcP16,prcP17,prcP18,prcP19,prcP20,prcP21,prcP22,prcP23,prcP24,prcP25,prcP26,prcP27,prcP28,prcP29,prcP30];

// ---------------- CHART ----------------
const W = 850, H = 620;
const M = {left:163.5, right:810.5, top:30, bottom:560};
const svg = d3.select("#c");
svg.append("rect").attr("width",W).attr("height",H).attr("fill","#000");

const t0 = Date.UTC(...runStartUTC);
const times = dewMean.map((_, i) => new Date(t0 + i * stepHours * 3600e3));
const x = d3.scaleUtc().domain([new Date(Date.UTC(2026,0,10,0)), new Date(Date.UTC(2026,0,26,12))]).range([M.left, M.right]);
const yD = d3.scaleLinear().domain([-30,25]).range([M.bottom, M.top]);
const yP = d3.scaleLinear().domain([0,40]).range([M.bottom, M.top]);

const g = svg.append("g");
// grid
const dayTicks = d3.utcDay.range(new Date(Date.UTC(2026,0,11)), x.domain()[1]);
g.selectAll("line.vg").data(dayTicks).join("line")
  .attr("x1", d => x(d)).attr("x2", d => x(d)).attr("y1", M.top).attr("y2", M.bottom)
  .attr("stroke","#4a4a4a").attr("stroke-width",1).attr("stroke-dasharray","4,4");
g.selectAll("line.hg").data(dewTicks.filter(v => v > -30 && v < 25 && v !== 0)).join("line")
  .attr("x1", M.left).attr("x2", M.right).attr("y1", d => yD(d)).attr("y2", d => yD(d))
  .attr("stroke","#4a4a4a").attr("stroke-width",1).attr("stroke-dasharray","4,4");
// zero line
g.append("line").attr("x1",M.left).attr("x2",M.right).attr("y1",yD(0)).attr("y2",yD(0))
  .attr("stroke","#fff").attr("stroke-width",1.5);

const lineD = d3.line().x((d,i) => x(times[i])).y(d => yD(d));
const lineP = d3.line().x((d,i) => x(times[i])).y(d => yP(d));
const colorOf = i => memberColors[i % 20];

const plot = svg.append("g");
prcMembers.forEach((arr, i) => {
  plot.append("path").attr("d", lineP(arr)).attr("fill","none").attr("stroke", colorOf(i)).attr("stroke-width",1).attr("stroke-linejoin","round");
});
dewMembers.forEach((arr, i) => {
  plot.append("path").attr("d", lineD(arr)).attr("fill","none").attr("stroke", colorOf(i)).attr("stroke-width",1).attr("stroke-linejoin","round");
});
const thick = [
  {d: lineP(prcCtrl), c:"#0000ff"}, {d: lineD(dewCtrl), c:"#0000ff"},
  {d: lineP(prcMean), c:"#ffffff"}, {d: lineD(dewMean), c:"#ffffff"},
  {d: lineP(prcOper), c:"#00dd00"}, {d: lineD(dewOper), c:"#00dd00"}
];
thick.forEach(t => plot.append("path").attr("d", t.d).attr("fill","none").attr("stroke", t.c).attr("stroke-width",3.2).attr("stroke-linejoin","round"));

// frame
svg.append("rect").attr("x",M.left).attr("y",M.top).attr("width",M.right-M.left).attr("height",M.bottom-M.top)
  .attr("fill","none").attr("stroke","#e8e8e8").attr("stroke-width",1.2);

// right minor ticks every 1 mm
svg.selectAll("line.rt").data(d3.range(1,40)).join("line")
  .attr("x1", M.right-3.5).attr("x2", M.right).attr("y1", d => yP(d)).attr("y2", d => yP(d))
  .attr("stroke","#e8e8e8").attr("stroke-width",1);

// tick labels
svg.selectAll("text.yl").data(dewTicks).join("text")
  .attr("x", 154).attr("y", d => yD(d)).attr("dy","0.35em").attr("text-anchor","end")
  .attr("font-size","10.5px").text(d => d);
svg.selectAll("text.yr").data(prcTicks).join("text")
  .attr("x", 817).attr("y", d => yP(d)).attr("dy","0.35em").attr("text-anchor","start")
  .attr("font-size","10.5px").text(d => d);
const labelDates = xTickLabels.map((_, i) => new Date(Date.UTC(2026, 0, 10 + 2*i)));
svg.selectAll("text.xl").data(labelDates).join("text")
  .attr("x", d => x(d)).attr("y", 577).attr("text-anchor","middle")
  .attr("font-size","10.5px").text((d,i) => xTickLabels[i]);

// axis titles
svg.append("text").attr("transform","translate(135.5,295) rotate(-90)").attr("text-anchor","middle")
  .attr("font-size","10.5px").text("2m Dewpoint (°C)");
svg.append("text").attr("transform","translate(843.5,295) rotate(-90)").attr("text-anchor","middle")
  .attr("font-size","10.5px").text("Precipitation (mm)");
svg.append("text").attr("x",486).attr("y",593).attr("text-anchor","middle")
  .attr("font-size","10.5px").text("Date (UTC)");

// title
svg.append("text").attr("x",435).attr("y",17.5).attr("text-anchor","middle")
  .attr("font-size","16px").attr("font-weight","bold").style("white-space","pre")
  .text("Brussels  (BE)  2m Dewpoint & Precipitation | Sat, 10Jan2026 12Z");

// footer
svg.append("text").attr("x",120).attr("y",605).attr("font-size","16px").attr("fill","#e0e0e0").text("GFS Ensemble, 51N, 4.5E");
svg.append("text").attr("x",650).attr("y",605).attr("font-size","16px").attr("fill","#e0e0e0").text("Wetterzentrale.de");

// legend
const legendItems = memberNames.map((n,i) => ({name:n, color:colorOf(i), w:2}))
  .concat([{name:"Control", color:"#0000ff", w:2.5},{name:"Ens. mean", color:"#ffffff", w:2.5},{name:"Oper", color:"#00dd00", w:2.5}]);
const lg = svg.append("g");
legendItems.forEach((it, k) => {
  const row = Math.floor(k/2), col = k % 2;
  const yy = 39.5 + row*15;
  const x0 = col === 0 ? -2 : 54;
  lg.append("line").attr("x1",x0).attr("x2",x0+10).attr("y1",yy).attr("y2",yy).attr("stroke",it.color).attr("stroke-width",it.w);
  lg.append("text").attr("x",x0+11).attr("y",yy).attr("dy","0.35em").attr("font-size","10.5px").text(it.name);
});
</script>
</body></html>
